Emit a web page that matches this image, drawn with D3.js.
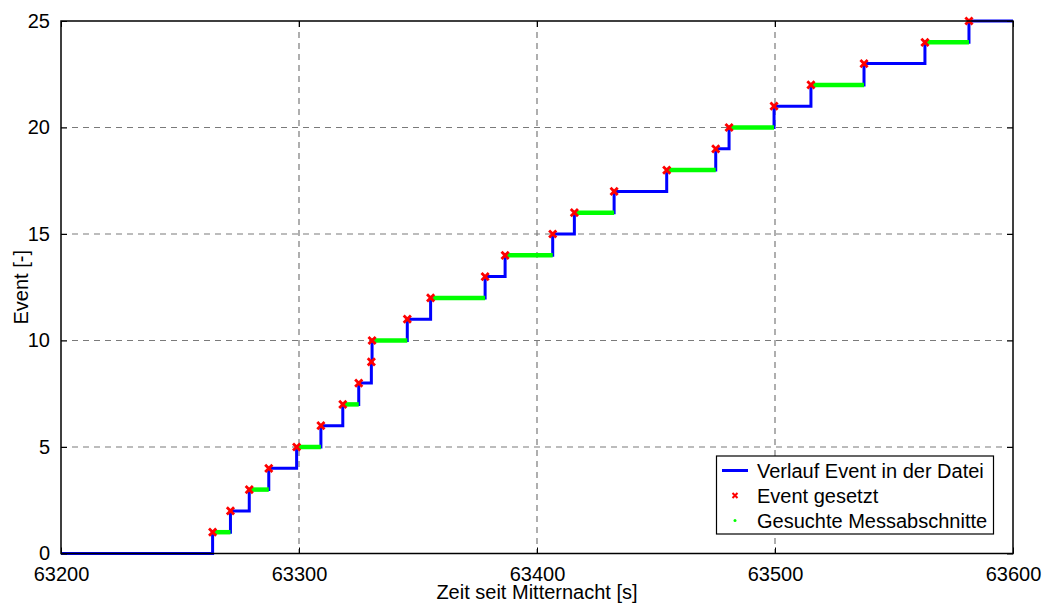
<!DOCTYPE html>
<html>
<head>
<meta charset="utf-8">
<script src="https://cdn.jsdelivr.net/npm/d3@7/dist/d3.min.js"></script>
<style>
  html, body { margin: 0; padding: 0; background: #fff; }
  svg { display: block; font-family: "Liberation Sans", Arial, sans-serif; }
</style>
</head>
<body>
<svg id="chart" width="1045" height="603"></svg>
<script>
// Zeitpunkte (s seit Mitternacht), zu denen jeweils ein Event gesetzt wurde
const eventTimes = [
  63263.7, 63271.2, 63279.1, 63287.3, 63299.0, 63309.2, 63318.4, 63325.1,
  63330.4, 63330.7, 63345.5, 63355.3, 63378.2, 63386.6, 63406.6, 63415.7,
  63432.4, 63454.5, 63475.1, 63480.7, 63499.6, 63515.1, 63537.4, 63563.0,
  63581.5
];
const eventNumbers = d3.range(1, 26);
// Events, ab denen ein gesuchter Messabschnitt beginnt (bis zum nächsten Event)
const segmentStartEvents = [1, 3, 5, 7, 10, 12, 14, 16, 18, 20, 22, 24];
const xDomain = [63200, 63600];
const yDomain = [0, 25];
const xTicks = [63200, 63300, 63400, 63500, 63600];
const yTicks = [0, 5, 10, 15, 20, 25];
const legendLabels = ["Verlauf Event in der Datei", "Event gesetzt", "Gesuchte Messabschnitte"];

const svg = d3.select("#chart");
const L = 61, R = 1013, T = 21, B = 553.5;
const x = d3.scaleLinear().domain(xDomain).range([L, R]);
const y = d3.scaleLinear().domain(yDomain).range([B, T]);

// Gitterlinien
const grid = svg.append("g").attr("stroke", "#7a7a7a").attr("stroke-width", 1.2)
  .attr("stroke-dasharray", "6,5");
grid.selectAll(".gx").data(xTicks.slice(1, -1)).join("line")
  .attr("x1", d => x(d)).attr("x2", d => x(d)).attr("y1", T).attr("y2", B);
grid.selectAll(".gy").data(yTicks.slice(1, -1)).join("line")
  .attr("y1", d => y(d)).attr("y2", d => y(d)).attr("x1", L).attr("x2", R);

// Stufenverlauf des Event-Zählers
const stepData = [{t: xDomain[0], e: 0}]
  .concat(eventTimes.map((t, i) => ({t, e: eventNumbers[i]})))
  .concat([{t: xDomain[1], e: eventNumbers[eventNumbers.length - 1]}]);
const stepLine = d3.line().x(d => x(d.t)).y(d => y(d.e)).curve(d3.curveStepAfter);
svg.append("path").datum(stepData)
  .attr("d", stepLine).attr("fill", "none")
  .attr("stroke", "#0000ff").attr("stroke-width", 3);

// Gesuchte Messabschnitte
svg.append("g").selectAll("line").data(segmentStartEvents).join("line")
  .attr("x1", e => x(eventTimes[e - 1]))
  .attr("x2", e => x(eventTimes[e]))
  .attr("y1", e => y(e)).attr("y2", e => y(e))
  .attr("stroke", "#00ff00").attr("stroke-width", 4.5);

// Event-Marker
const xMark = (cx, cy, s) => `M${cx - s},${cy - s}L${cx + s},${cy + s}M${cx - s},${cy + s}L${cx + s},${cy - s}`;
svg.append("g").selectAll("path").data(eventTimes).join("path")
  .attr("d", (t, i) => xMark(x(t), y(eventNumbers[i]), 3.6))
  .attr("stroke", "#ff0000").attr("stroke-width", 2.8).attr("fill", "none");

// Achsenrahmen
svg.append("rect").attr("x", L).attr("y", T).attr("width", R - L).attr("height", B - T)
  .attr("fill", "none").attr("stroke", "#000").attr("stroke-width", 1.5);

// Achsen mit nach innen gerichteten Ticks
const fmt = d3.format("d");
const axB = svg.append("g").attr("transform", `translate(0,${B})`)
  .call(d3.axisBottom(x).tickValues(xTicks).tickFormat(fmt).tickSize(-6).tickPadding(13));
const axT = svg.append("g").attr("transform", `translate(0,${T})`)
  .call(d3.axisTop(x).tickValues(xTicks).tickFormat("").tickSize(-6));
const axL = svg.append("g").attr("transform", `translate(${L},0)`)
  .call(d3.axisLeft(y).tickValues(yTicks).tickFormat(fmt).tickSize(-6).tickPadding(11));
const axR = svg.append("g").attr("transform", `translate(${R},0)`)
  .call(d3.axisRight(y).tickValues(yTicks).tickFormat("").tickSize(-6));
[axB, axT, axL, axR].forEach(a => {
  a.select(".domain").remove();
  a.selectAll(".tick line").attr("stroke", "#000").attr("stroke-width", 1);
  a.selectAll("text").attr("font-size", 20).attr("fill", "#000")
    .attr("font-family", "'Liberation Sans', Arial, sans-serif");
});
axB.selectAll("text").attr("dy", "0.71em");

// Achsenbeschriftungen
svg.append("text").attr("x", (L + R) / 2).attr("y", 599)
  .attr("text-anchor", "middle").attr("font-size", 20).text("Zeit seit Mitternacht [s]");
svg.append("text").attr("transform", `translate(28,${(T + B) / 2}) rotate(-90)`)
  .attr("text-anchor", "middle").attr("font-size", 20).text("Event [-]");

// Legende
const lg = svg.append("g");
lg.append("rect").attr("x", 716.5).attr("y", 456).attr("width", 277).attr("height", 78)
  .attr("fill", "#fff").attr("stroke", "#000").attr("stroke-width", 1.2);
const rowY = [470.5, 495.5, 520.5];
lg.append("line").attr("x1", 722).attr("x2", 748).attr("y1", rowY[0]).attr("y2", rowY[0])
  .attr("stroke", "#0000ff").attr("stroke-width", 3);
lg.append("path").attr("d", xMark(735, rowY[1], 2.5))
  .attr("stroke", "#ff0000").attr("stroke-width", 2).attr("fill", "none");
lg.append("circle").attr("cx", 735).attr("cy", rowY[2]).attr("r", 1.5).attr("fill", "#00ff00");
lg.selectAll("text.lbl").data(legendLabels).join("text")
  .attr("x", 757).attr("y", (d, i) => rowY[i]).attr("dy", "0.35em")
  .attr("font-size", 20).text(d => d);
</script>
</body>
</html>
